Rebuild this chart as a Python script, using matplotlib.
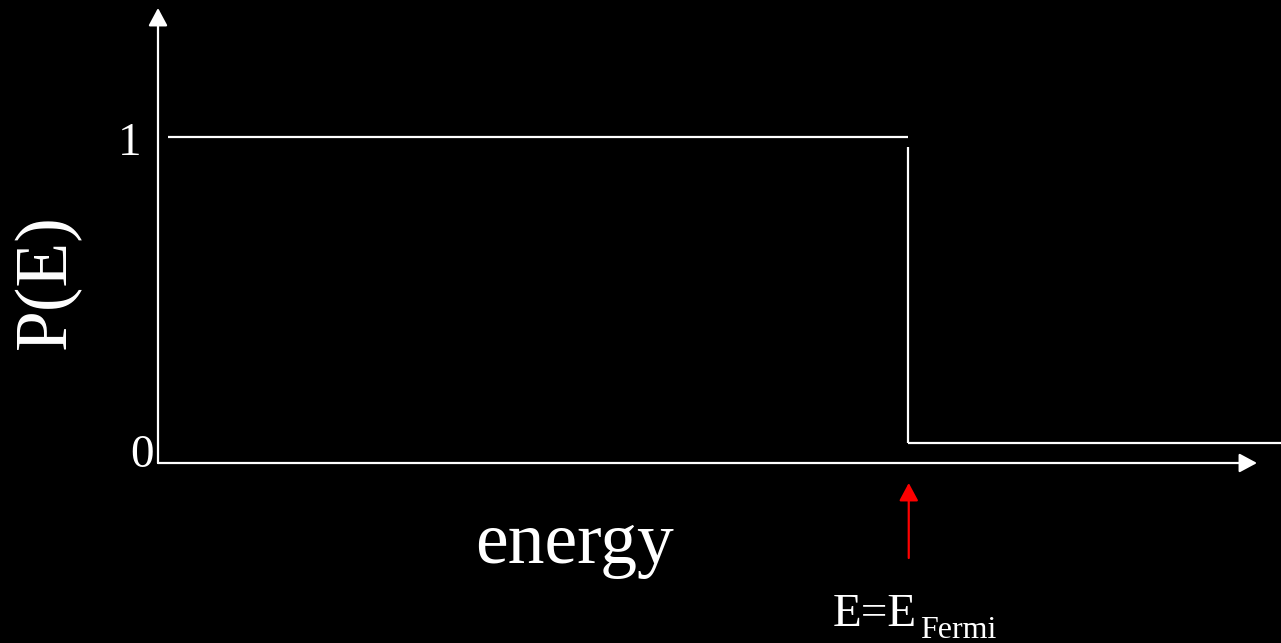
import matplotlib
matplotlib.use("Agg")
import matplotlib.pyplot as plt
from matplotlib.patches import FancyArrowPatch

# ---- data (energy in units of E_Fermi, probability P(E)) ----
E_fermi = 1.0
step_energy_high = [0.013, 1.0]      # occupied level segment
step_p_high = [1.0, 1.0]
step_energy_drop = [1.0, 1.0]        # vertical drop at E_Fermi
step_p_drop = [0.97, 0.06]
step_energy_low = [1.0, 1.6]         # empty level segment (drawn slightly above axis)
step_p_low = [0.06, 0.06]
ytick_values = [0, 1]
ytick_labels = ["0", "1"]

W, H = 1281, 643
fig = plt.figure(figsize=(W / 100, H / 100), dpi=100, facecolor="black")
ax = fig.add_axes([0, 0, 1, 1], facecolor="black")
# pixel mapping: E=0 at x=158px, E=1 at x=908px ; P=0 at y=463px, P=1 at y=137px
sx, sy = 750.0, 326.0
ax.set_xlim(-158 / sx, (W - 158) / sx)
ax.set_ylim(-(H - 463) / sy, 463 / sy)
ax.axis("off")

serif = ["Liberation Serif", "DejaVu Serif"]
lw = 1.6

ax.plot(step_energy_high, step_p_high, color="white", lw=lw, solid_capstyle="butt")
ax.plot(step_energy_drop, step_p_drop, color="white", lw=lw, solid_capstyle="butt")
ax.plot(step_energy_low, step_p_low, color="white", lw=lw, solid_capstyle="butt")

def arrow(p0, p1, color):
    a = FancyArrowPatch(p0, p1, arrowstyle="-|>,head_length=0.54,head_width=0.29",
                        mutation_scale=20, color=color, lw=lw,
                        shrinkA=0, shrinkB=0)
    ax.add_patch(a)

# axes arrows
arrow((0, 0), (0, 455 / sy), "white")
arrow((0, 0), ((1257 - 158) / sx, 0), "white")
# Fermi marker arrow
arrow((E_fermi + 0.001, -(558 - 463) / sy), (E_fermi + 0.001, -(483 - 463) / sy), "red")

# tick labels
for v, lab in zip(ytick_values, ytick_labels):
    off = 18 / sy if v == 1 else 4 / sy
    xr = -17 / sx if v == 1 else -4 / sx
    ax.text(xr, v - off, lab, color="white", fontsize=34, family=serif,
            ha="right", va="baseline")

ax.text(0.555, -(563 - 463) / sy, "energy", color="white", fontsize=53,
        family=serif, ha="center", va="baseline")
ax.text(-111 / sx, (463 - 282) / sy, "P(E)", color="white", fontsize=53,
        family=serif, ha="center", va="center", rotation=90)

ax.text(E_fermi + 9 / sx, -(626 - 463) / sy, "E=E", color="white", fontsize=34,
        family=serif, ha="right", va="baseline")
ax.text(E_fermi + 12 / sx, -(638 - 463) / sy, "Fermi", color="white", fontsize=23,
        family=serif, ha="left", va="baseline")

fig.savefig("out.png", dpi=100, facecolor="black")
